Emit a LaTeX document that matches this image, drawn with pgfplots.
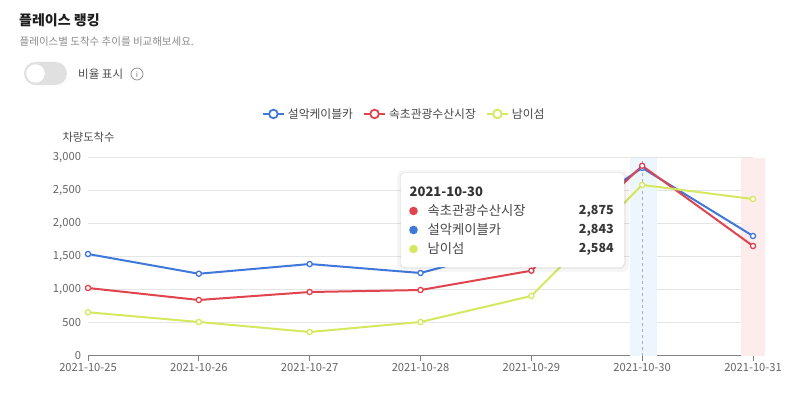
\documentclass[border=0pt]{standalone}
\usepackage{fontspec}
\setmainfont{Noto Sans CJK KR}
\usepackage{pgfplots}
\pgfplotsset{compat=1.18}
\definecolor{cblue}{HTML}{3F77DB}
\definecolor{cred}{HTML}{E0444F}
\definecolor{cgreen}{HTML}{D5E85F}
\definecolor{bandblue}{HTML}{EEF6FD}
\definecolor{bandred}{HTML}{FDECEC}
\definecolor{dashc}{HTML}{9FB3C8}
\begin{document}
\begin{tikzpicture}[x=1pt,y=1pt]
\useasboundingbox (0,0) rectangle (800,-396);
\fill[white] (0,0) rectangle (800,-396);
% header
\node[anchor=west, inner sep=0pt, font=\fontsize{14}{16}\selectfont\bfseries, text=black!88] at (19,-20) {플레이스 랭킹};
\node[anchor=west, inner sep=0pt, font=\fontsize{10.5}{12}\selectfont, text=black!45] at (19.5,-42) {플레이스별 도착수 추이를 비교해보세요.};
\fill[black!12, rounded corners=11.5pt] (24,-62) rectangle (67,-85);
\fill[white] (35.5,-73.5) circle (9.3);
\node[anchor=west, inner sep=0pt, font=\fontsize{11.5}{13}\selectfont, text=black!70] at (78,-74) {비율 표시};
\draw[black!45, line width=0.7pt] (137,-74) circle (6);
\node[inner sep=0pt, font=\fontsize{8}{9}\selectfont, text=black!50] at (137,-74) {i};
% y label
\node[inner sep=0pt, font=\fontsize{11.3}{13}\selectfont, text=black!70] at (88.5,-137.5) {차량도착수};
\begin{axis}[
  at={(88pt,-355.5pt)}, anchor=south west,
  scale only axis, width=665pt, height=198pt,
  xmin=0, xmax=6, ymin=0, ymax=3000,
  clip=false,
  axis x line*=bottom, axis y line*=left,
  y axis line style={draw=none},
  x axis line style={draw=black!50, line width=0.8pt},
  xtick={0,1,2,3,4,5,6},
  xticklabels={2021-10-25,2021-10-26,2021-10-27,2021-10-28,2021-10-29,2021-10-30,2021-10-31},
  ytick={0,500,1000,1500,2000,2500,3000},
  ymajorgrids, grid style={color=black!10, line width=0.6pt},
  tick align=outside, major tick length=5pt,
  xtick style={draw=black!50, line width=0.8pt}, ytick style={draw=none},
  ticklabel style={font=\fontsize{11.2}{13}\selectfont, text=black!60},
  yticklabel style={anchor=east, xshift=1.5pt},
  xticklabel style={yshift=1pt},
  /pgf/number format/assume math mode=true,
  /pgf/number format/1000 sep={,},
  scaled y ticks=false,
  legend columns=3,
  legend style={at={(0.4755,1.22)}, anchor=center, draw=none, fill=none,
    font=\fontsize{11.8}{13}\selectfont, text=black!72,
    /tikz/every even column/.append style={column sep=8pt},
    /tikz/every odd column/.append style={column sep=1pt}},
  legend cell align=left,
  legend image code/.code={
    \draw[#1, mark=none] (0pt,0pt) -- (21pt,0pt);
    \draw[#1, mark=none, fill=white, line width=1.8pt] (10.5pt,0pt) circle (4.3pt);
  },
]
\fill[bandblue] (axis cs:4.89,0) rectangle (axis cs:5.13,3000);
\fill[bandred] (axis cs:5.89,0) rectangle (axis cs:6.11,3000);
\draw[dashc, dash pattern=on 3pt off 3pt, line width=0.7pt] (axis cs:5,0) -- (axis cs:5,3000);
\addplot[color=cblue, line width=2pt, mark=*, mark size=2.6pt, mark options={fill=white, line width=1.3pt}]
  coordinates {(0,1538) (1,1239) (2,1386) (3,1250) (4,1700) (5,2843) (6,1811)};
\addlegendentry{설악케이블카}
\addplot[color=cred, line width=2pt, mark=*, mark size=2.6pt, mark options={fill=white, line width=1.3pt}]
  coordinates {(0,1023) (1,841) (2,962) (3,992) (4,1285) (5,2875) (6,1659)};
\addlegendentry{속초관광수산시장}
\addplot[color=cgreen, line width=2pt, mark=*, mark size=2.6pt, mark options={fill=white, line width=1.3pt}]
  coordinates {(0,655) (1,508) (2,356) (3,508) (4,902) (5,2584) (6,2371)};
\addlegendentry{남이섬}
\end{axis}
% cut last tick label at the chart edge
\fill[white] (781,-358) rectangle (800,-382);
% tooltip
\fill[black, opacity=0.035, rounded corners=7pt] (397,-170) rectangle (629,-272);
\fill[black, opacity=0.045, rounded corners=5pt] (399.5,-172) rectangle (626,-269);
\fill[white, rounded corners=4pt] (401,-173) rectangle (624,-267);
\node[anchor=west, inner sep=0pt, font=\fontsize{13}{15}\selectfont\bfseries, text=black!80] at (409.5,-192) {2021-10-30};
\fill[cred] (413.5,-211) circle (4.3);
\fill[cblue] (413.5,-230) circle (4.3);
\fill[cgreen] (413.5,-249) circle (4.3);
\node[anchor=west, inner sep=0pt, font=\fontsize{13.3}{15}\selectfont, text=black!72] at (427.5,-211) {속초관광수산시장};
\node[anchor=west, inner sep=0pt, font=\fontsize{13.3}{15}\selectfont, text=black!72] at (427.5,-230) {설악케이블카};
\node[anchor=west, inner sep=0pt, font=\fontsize{13.3}{15}\selectfont, text=black!72] at (427.5,-249) {남이섬};
\node[anchor=east, inner sep=0pt, font=\fontsize{12.5}{14}\selectfont\bfseries, text=black!78] at (614,-211) {2,875};
\node[anchor=east, inner sep=0pt, font=\fontsize{12.5}{14}\selectfont\bfseries, text=black!78] at (614,-230) {2,843};
\node[anchor=east, inner sep=0pt, font=\fontsize{12.5}{14}\selectfont\bfseries, text=black!78] at (614,-249) {2,584};
\end{tikzpicture}
\end{document}
